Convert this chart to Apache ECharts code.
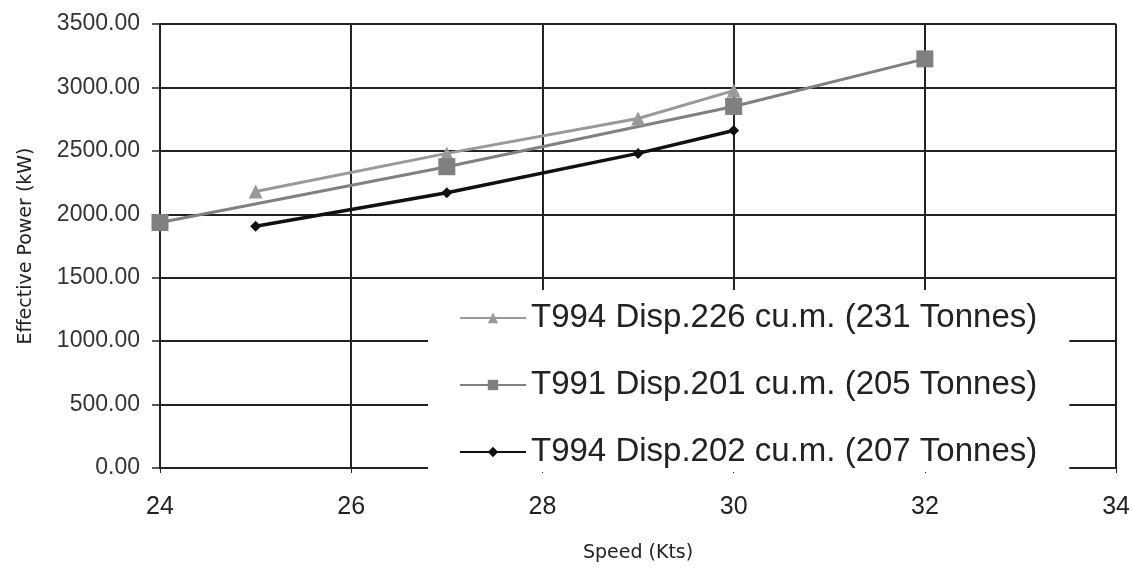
<!DOCTYPE html>
<html>
<head>
<meta charset="utf-8">
<script src="https://cdn.jsdelivr.net/npm/echarts@6/dist/echarts.min.js"></script>
<style>
  html, body { margin: 0; padding: 0; background: #fff; }
  #main { width: 1133px; height: 570px; }
</style>
</head>
<body>
<div id="main"></div>
<script>
// speed (kts) / effective power (kW)
const seriesNames = [
  'T994 Disp.226 cu.m. (231 Tonnes)',
  'T991 Disp.201 cu.m. (205 Tonnes)',
  'T994 Disp.202 cu.m. (207 Tonnes)'
];
const speed226 = [25, 27, 29, 30];
const power226 = [2180, 2480, 2755, 2975];
const speed201 = [24, 27, 30, 32];
const power201 = [1935, 2375, 2850, 3225];
const speed202 = [25, 27, 29, 30];
const power202 = [1905, 2170, 2480, 2660];

const font = 'Liberation Sans, Arial, sans-serif';

function pairs(xs, ys) {
  return xs.map((x, i) => [x, ys[i]]);
}

const chart = echarts.init(document.getElementById('main'), null, { renderer: 'canvas' });

var option = {
  animation: false,
  backgroundColor: '#fff',
  grid: { left: 160, right: 16, top: 24, bottom: 102 },
  legend: {
    orient: 'vertical',
    left: 428,
    top: 290,
    z: 10,
    backgroundColor: '#fff',
    padding: [10, 32, 2, 31],
    itemGap: 31,
    itemWidth: 66,
    itemHeight: 13,
    textStyle: { fontFamily: font, fontSize: 33, color: '#222', lineHeight: 36 },
    data: seriesNames
  },
  xAxis: {
    type: 'value',
    min: 24,
    max: 34,
    interval: 2,
    name: 'Speed (Kts)',
    nameLocation: 'middle',
    nameGap: 76,
    nameTextStyle: { fontFamily: 'DejaVu Sans, sans-serif', fontSize: 19, color: '#222' },
    axisLine: { lineStyle: { color: '#222', width: 2 } },
    axisTick: { show: true, length: 5, lineStyle: { color: '#222', width: 1 } },
    axisLabel: { fontFamily: font, fontSize: 25, color: '#222', margin: 27 },
    splitLine: { show: true, lineStyle: { color: '#222', width: 2 } }
  },
  yAxis: {
    type: 'value',
    min: 0,
    max: 3500,
    interval: 500,
    name: 'Effective Power (kW)',
    nameLocation: 'middle',
    nameGap: 124,
    nameTextStyle: { fontFamily: 'DejaVu Sans, sans-serif', fontSize: 19, color: '#222' },
    axisLine: { show: true, lineStyle: { color: '#222', width: 2 } },
    axisTick: { show: true, inside: false, length: 8, lineStyle: { color: '#222', width: 1.5 } },
    axisLabel: {
      fontFamily: font, fontSize: 23, color: '#333', margin: 20,
      formatter: function (v) { return v.toFixed(2); }
    },
    splitLine: { show: true, lineStyle: { color: '#222', width: 2 } }
  },
  series: [
    {
      name: seriesNames[0],
      type: 'line',
      data: pairs(speed226, power226),
      symbol: 'triangle',
      symbolSize: 14,
      color: '#999',
      lineStyle: { width: 3, color: '#999' },
      itemStyle: { color: '#999' }
    },
    {
      name: seriesNames[1],
      type: 'line',
      data: pairs(speed201, power201),
      symbol: 'rect',
      symbolSize: 17,
      color: '#808080',
      lineStyle: { width: 3, color: '#808080' },
      itemStyle: { color: '#808080' }
    },
    {
      name: seriesNames[2],
      type: 'line',
      data: pairs(speed202, power202),
      symbol: 'diamond',
      symbolSize: 11,
      color: '#111',
      lineStyle: { width: 3.5, color: '#111' },
      itemStyle: { color: '#111' }
    }
  ]
};

chart.setOption(option);
</script>
</body>
</html>
